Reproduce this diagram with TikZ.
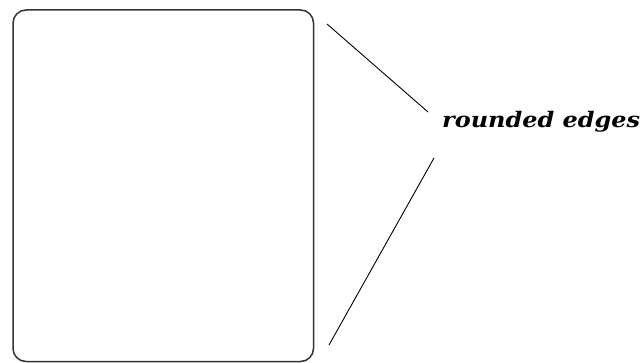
\documentclass[tikz,border=0pt]{standalone}
\usepackage{fontspec}
\usepackage{graphicx}
\newfontfamily\labelfont{DejaVu Serif}
\begin{document}
\begin{tikzpicture}[x=1pt,y=-1pt,
  boxstyle/.style={draw=black!80,line width=1.5pt,rounded corners=13pt},
  pointer/.style={draw=black,line width=0.9pt},
  labelstyle/.style={font=\labelfont\bfseries\itshape\fontsize{20}{24}\selectfont,inner sep=0pt,anchor=base west}]
\useasboundingbox (0,0) rectangle (644,363);
\draw[boxstyle] (13,10) rectangle (313.5,361.5);
\node[labelstyle] (lbl) at (442,127.5) {\resizebox*{198pt}{21pt}{rounded edges}};
\coordinate (a1) at (327,24);
\coordinate (a2) at (428,112);
\coordinate (b1) at (434,158);
\coordinate (b2) at (329,345);
\draw[pointer] (a1) -- (a2);
\draw[pointer] (b1) -- (b2);
\end{tikzpicture}
\end{document}
